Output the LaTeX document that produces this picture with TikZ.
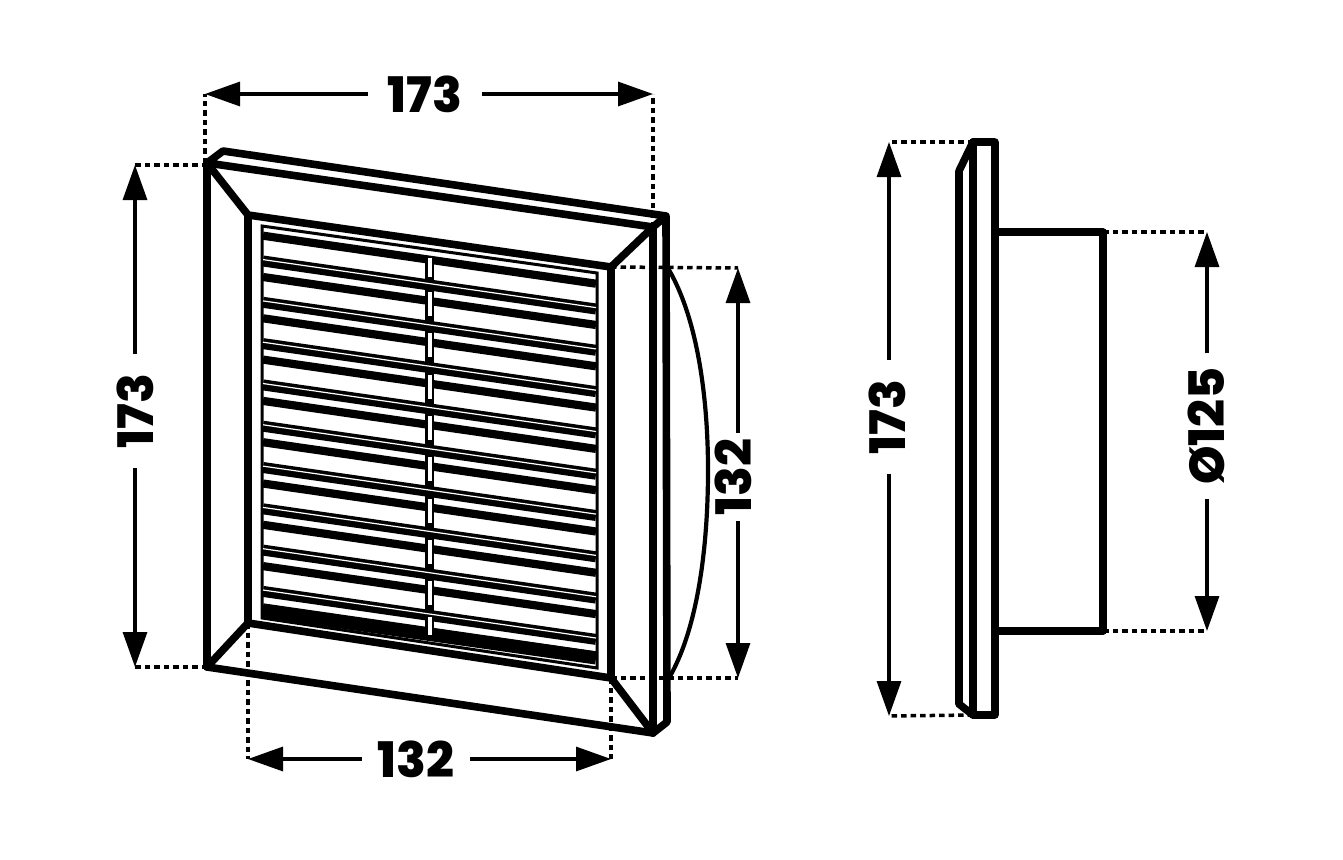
\documentclass[tikz,border=0pt]{standalone}
\usepackage{fontspec}
\setmainfont{Poppins}[UprightFont=*-SemiBold,BoldFont=*-ExtraBold]
\usetikzlibrary{arrows.meta}
\tikzset{
  body/.style={line width=7.6pt,line join=round,line cap=round},
  gridline/.style={line width=3pt},
  dotline/.style={line width=3.5pt,dash pattern=on 5.5pt off 4pt},
  dimline/.style={line width=3.2pt,-{Triangle[length=35pt,width=24pt]}},
  dimtext/.style={font=\fontsize{49}{49}\selectfont\bfseries,inner sep=0pt,outer sep=0pt}
}
\begin{document}
\begin{tikzpicture}[x=1pt,y=-1pt]
\useasboundingbox (0,0) rectangle (1343,859);
\fill[white] (0,0) rectangle (1343,859);
% outer frame
\coordinate (TL) at (207,163);
\coordinate (TB) at (223,151);
\coordinate (TR) at (666,216);
\coordinate (TF) at (653,227);
\coordinate (BL) at (207,667);
\coordinate (BF) at (653,733);
\coordinate (BR) at (667,722);
\coordinate (iTL) at (248,215);
\coordinate (iTR) at (611,267);
\coordinate (iBL) at (248,623);
\coordinate (iBR) at (611,678);
% back dome
\draw[line width=4.2pt] (669,270) .. controls (698,320) and (708,400) .. (708,470) .. controls (708,550) and (697,630) .. (669,678);
% grille
\draw[gridline] (262,226) -- (597,273) -- (597,668) -- (262,618) -- cycle;
% centre bar
\fill (425,258) rectangle (434,636);
\foreach \k in {-1,0,...,8}{
  \draw[line width=8.2pt] (263,{277+41.3*\k}) -- (596,{325+41.3*\k});
}
\draw[line width=13pt] (263,611) -- (596,658);
\foreach \k in {0,...,8}{
  \draw[line width=11pt] (263,{261+41.3*\k}) -- (596,{309+41.3*\k});
  \draw[white,line width=1.2pt] (263,{259.6+41.3*\k}) -- (596,{307.6+41.3*\k});
}
\fill[white] (428,258) rectangle (431.5,277);
\foreach \k in {0,...,7}{
  \fill[white] (428,{292+41.3*\k}) rectangle (431.5,{316+41.3*\k});
}
\fill[white] (428,617) rectangle (431.5,635);
% frame
\draw[body] (TF) -- (TL) -- (TB) -- (TR) -- (TF) -- (BF) -- (BR) -- (TR);
\draw[body] (TL) -- (BL) -- (BF);
\draw[body] (TL) -- (iTL) -- (iTR) -- (TF);
\draw[body] (BL) -- (iBL) -- (iBR) -- (BF);
\draw[body] (iTL) -- (iBL);
\draw[body] (iTR) -- (iBR);
% side view
\coordinate (sA) at (959,704);
\coordinate (sB) at (959,171);
\coordinate (sC) at (973,142);
\coordinate (sD) at (995,142);
\coordinate (sE) at (995,715);
\coordinate (sF) at (973,715);
\coordinate (dA) at (995,232);
\coordinate (dB) at (1103,232);
\coordinate (dC) at (1103,631);
\coordinate (dD) at (995,631);
\draw[body] (sA) -- (sB) -- (sC) -- (sD) -- (sE) -- (sF) -- (sA);
\draw[body] (sC) -- (sF);
\draw[body] (dA) -- (dB) -- (dC) -- (dD);
% dimension end points
\coordinate (a1) at (205,94);  \coordinate (a2) at (653,94);
\coordinate (b1) at (135,165); \coordinate (b2) at (135,667);
\coordinate (c1) at (738,268); \coordinate (c2) at (738,678);
\coordinate (d1) at (248,759); \coordinate (d2) at (611,759);
\coordinate (e1) at (889,142); \coordinate (e2) at (889,716);
\coordinate (f1) at (1207,232);\coordinate (f2) at (1207,631);
% dotted extension lines
\draw[dotline] (a1 |- TL) -- (a1);
\draw[dotline] (TF) -- (a2);
\draw[dotline] (TL |- b1) -- (b1);
\draw[dotline] (BL) -- (b2);
\draw[dotline] (iTR) -- (c1);
\draw[dotline] (iBR) -- (c2);
\draw[dotline] (iBL) -- (d1);
\draw[dotline] (iBR) -- (d2);
\draw[dotline] (sC) -- (e1);
\draw[dotline] (sF) -- (e2);
\draw[dotline] (dB) -- (f1);
\draw[dotline] (dC) -- (f2);
% labels
\node[dimtext,inner xsep=20pt] (la) at (425,94) {173};
\node[dimtext,rotate=90,inner xsep=20pt] (lb) at (135,411) {173};
\node[dimtext,rotate=90,inner xsep=6pt] (lc) at (733,477) {132};
\node[dimtext,inner xsep=16pt] (ld) at (416,759) {132};
\node[dimtext,rotate=90,inner xsep=20pt] (le) at (887,417) {173};
\node[dimtext,rotate=90,inner xsep=14pt] (lf) at (1206,426) {Ø125};
% dimension arrows
\draw[dimline] (la) -- (a1);
\draw[dimline] (la) -- (a2);
\draw[dimline] (lb) -- (b1);
\draw[dimline] (lb) -- (b2);
\draw[dimline] (c1 |- lc.east) -- (c1);
\draw[dimline] (c1 |- lc.west) -- (c2);
\draw[dimline] (ld) -- (d1);
\draw[dimline] (ld) -- (d2);
\draw[dimline] (e1 |- le.east) -- (e1);
\draw[dimline] (e1 |- le.west) -- (e2);
\draw[dimline] (f1 |- lf.east) -- (f1);
\draw[dimline] (f1 |- lf.west) -- (f2);
\end{tikzpicture}
\end{document}
